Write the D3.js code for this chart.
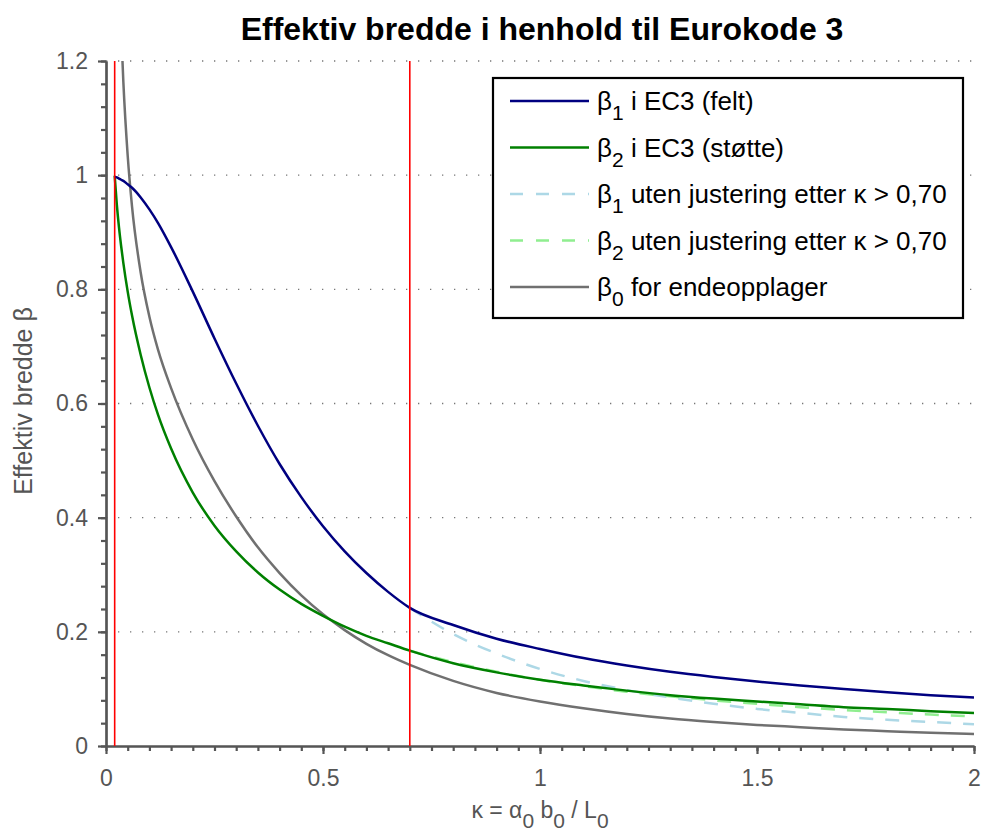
<!DOCTYPE html>
<html>
<head>
<meta charset="utf-8">
<script src="https://cdn.jsdelivr.net/npm/d3@7"></script>
<style>
  html, body { margin: 0; padding: 0; background: #fff; }
  svg { display: block; font-family: "Liberation Sans", Arial, sans-serif; }
</style>
</head>
<body>
<svg id="chart" width="982" height="832"></svg>
<script>
// ── data ──
const kappa = [0.02, 0.025, 0.03, 0.035, 0.04, 0.05, 0.06, 0.08, 0.1, 0.12, 0.15, 0.2, 0.25,
  0.3, 0.35, 0.4, 0.45, 0.5, 0.55, 0.6, 0.65, 0.7, 0.8, 0.9, 1.0, 1.1, 1.2, 1.3, 1.4,
  1.5, 1.6, 1.7, 1.8, 1.9, 2.0];

const beta1 = [0.997, 0.996, 0.994, 0.992, 0.990, 0.984, 0.978, 0.961, 0.940, 0.916, 0.874,
  0.796, 0.714, 0.635, 0.561, 0.494, 0.436, 0.385, 0.341, 0.303, 0.270, 0.242, 0.212,
  0.188, 0.170, 0.154, 0.141, 0.130, 0.121, 0.113, 0.106, 0.100, 0.094, 0.089, 0.085];

const beta2 = [0.999, 0.948, 0.908, 0.875, 0.846, 0.796, 0.754, 0.685, 0.628, 0.580, 0.521,
  0.444, 0.386, 0.341, 0.304, 0.274, 0.249, 0.228, 0.209, 0.193, 0.180, 0.167, 0.145,
  0.129, 0.116, 0.106, 0.097, 0.089, 0.083, 0.078, 0.073, 0.068, 0.065, 0.061, 0.058];

const beta0 = [1.795, 1.544, 1.375, 1.254, 1.163, 1.034, 0.945, 0.829, 0.752, 0.694, 0.627,
  0.537, 0.464, 0.402, 0.348, 0.303, 0.264, 0.231, 0.203, 0.179, 0.159, 0.142, 0.114,
  0.093, 0.078, 0.066, 0.056, 0.048, 0.042, 0.037, 0.033, 0.029, 0.026, 0.023, 0.021];

// unadjusted branches beyond kappa = 0.70
const kappaHigh = [0.7, 0.8, 0.9, 1.0, 1.1, 1.2, 1.3, 1.4, 1.5, 1.6, 1.7, 1.8, 1.9, 2.0];
const beta1Raw = [0.242, 0.196, 0.162, 0.135, 0.114, 0.098, 0.085, 0.074, 0.065, 0.058,
  0.051, 0.046, 0.042, 0.038];
const beta2Raw = [0.167, 0.147, 0.130, 0.116, 0.105, 0.095, 0.087, 0.080, 0.074, 0.068,
  0.063, 0.059, 0.055, 0.052];

const limits = [0.02, 0.7];
const xTicks = [0, 0.5, 1, 1.5, 2];
const yTicks = [0, 0.2, 0.4, 0.6, 0.8, 1, 1.2];

// ── layout ──
const svg = d3.select('#chart');
const M = { left: 106, right: 974, top: 61, bottom: 746 };
const AXIS = '#555555';

const x = d3.scaleLinear([0, 2], [M.left, M.right]);
const y = d3.scaleLinear([0, 1.2], [M.bottom, M.top]);

svg.append('clipPath').attr('id', 'plot')
  .append('rect').attr('x', M.left).attr('y', M.top)
  .attr('width', M.right - M.left).attr('height', M.bottom - M.top);

// dotted grid
svg.append('g').selectAll('line')
  .data(yTicks.filter(d => d > 0))
  .join('line')
  .attr('x1', M.left).attr('x2', M.right)
  .attr('y1', d => y(d)).attr('y2', d => y(d))
  .attr('stroke', '#777').attr('stroke-width', 1.3)
  .attr('stroke-dasharray', '1.3,10.7');

// axes
const minorY = d3.range(0, 1.2001, 0.04);
const minorX = d3.range(0, 2.0001, 0.05);

const yAxis = svg.append('g').attr('transform', `translate(${M.left},0)`)
  .call(d3.axisLeft(y).tickValues(minorY).tickSize(5).tickSizeOuter(0).tickFormat(''));
const yMajor = svg.append('g').attr('transform', `translate(${M.left},0)`)
  .call(d3.axisLeft(y).tickValues(yTicks).tickSize(8).tickSizeOuter(0)
    .tickPadding(10).tickFormat(d => d3.format('')(+d.toFixed(1))));

const xAxis = svg.append('g').attr('transform', `translate(0,${M.bottom})`)
  .call(d3.axisBottom(x).tickValues(minorX).tickSize(5).tickSizeOuter(0).tickFormat(''));
const xMajor = svg.append('g').attr('transform', `translate(0,${M.bottom})`)
  .call(d3.axisBottom(x).tickValues(xTicks).tickSize(8).tickSizeOuter(0)
    .tickPadding(16).tickFormat(d => d3.format('')(d)));

[yAxis, yMajor, xAxis, xMajor].forEach(g => {
  g.select('.domain').attr('stroke', AXIS).attr('stroke-width', 2.2);
  g.selectAll('.tick line').attr('stroke', AXIS).attr('stroke-width', 2.2);
  g.selectAll('.tick text').attr('fill', AXIS)
    .attr('font-family', '"Liberation Sans", Arial, sans-serif').attr('font-size', 23);
});

// curves
const plot = svg.append('g').attr('clip-path', 'url(#plot)');
const line = d3.line().x(d => x(d[0])).y(d => y(d[1])).curve(d3.curveMonotoneX);

const series = [
  { xs: kappaHigh, ys: beta1Raw, color: '#add8e6', dash: '14,12' },
  { xs: kappaHigh, ys: beta2Raw, color: '#90ee90', dash: '14,12' },
  { xs: kappa, ys: beta0, color: '#707070' },
  { xs: kappa, ys: beta2, color: '#008000' },
  { xs: kappa, ys: beta1, color: '#000080' },
];

series.forEach(s => {
  plot.append('path')
    .datum(s.xs.map((k, i) => [k, s.ys[i]]))
    .attr('d', line)
    .attr('fill', 'none')
    .attr('stroke', s.color)
    .attr('stroke-width', 2.5)
    .attr('stroke-dasharray', s.dash || null);
});

// limit lines
plot.selectAll('line.limit')
  .data(limits)
  .join('line')
  .attr('class', 'limit')
  .attr('x1', d => x(d)).attr('x2', d => x(d))
  .attr('y1', y(0)).attr('y2', y(1.2))
  .attr('stroke', '#ff0000').attr('stroke-width', 1.6);

// title
svg.append('text')
  .attr('x', 542).attr('y', 40)
  .attr('text-anchor', 'middle')
  .attr('font-size', 32).attr('font-weight', 'bold').attr('fill', '#000')
  .text('Effektiv bredde i henhold til Eurokode 3');

// y label
svg.append('text')
  .attr('transform', 'translate(32,401) rotate(-90)')
  .attr('text-anchor', 'middle')
  .attr('font-size', 25).attr('fill', AXIS)
  .text('Effektiv bredde β');

// x label with subscripts: alternating base / subscript pieces
const xLabelParts = [['κ = α', 0], ['0', 1], [' b', 0], ['0', 1], [' / L', 0], ['0', 1]];
const xl = svg.append('text')
  .attr('x', 540).attr('y', 818)
  .attr('text-anchor', 'middle')
  .attr('font-size', 23).attr('fill', AXIS);
let lastSub = 0;
xLabelParts.forEach(([txt, isSub]) => {
  xl.append('tspan')
    .attr('dy', (isSub - lastSub) * 10)
    .attr('font-size', isSub ? 21 : 23)
    .text(txt);
  lastSub = isSub;
});

// legend
const legendItems = [
  { sym: '1', text: ' i EC3 (felt)', color: '#000080' },
  { sym: '2', text: ' i EC3 (støtte)', color: '#008000' },
  { sym: '1', text: ' uten justering etter κ > 0,70', color: '#add8e6', dash: '13,13' },
  { sym: '2', text: ' uten justering etter κ > 0,70', color: '#90ee90', dash: '13,13' },
  { sym: '0', text: ' for endeopplager', color: '#707070' },
];

const lg = svg.append('g');
lg.append('rect')
  .attr('x', 493).attr('y', 78).attr('width', 470).attr('height', 240)
  .attr('fill', '#fff').attr('stroke', '#000').attr('stroke-width', 2.2);

legendItems.forEach((d, i) => {
  const cy = 101 + i * 46.5;
  lg.append('line')
    .attr('x1', 510).attr('x2', 589).attr('y1', cy).attr('y2', cy)
    .attr('stroke', d.color).attr('stroke-width', 2.5)
    .attr('stroke-dasharray', d.dash || null);
  const t = lg.append('text')
    .attr('x', 597).attr('y', cy + 9)
    .attr('font-size', 26).attr('fill', '#000');
  t.append('tspan').text('β');
  t.append('tspan').attr('dy', 10).attr('font-size', 21).text(d.sym);
  t.append('tspan').attr('dy', -10).text(d.text);
});
</script>
</body>
</html>
